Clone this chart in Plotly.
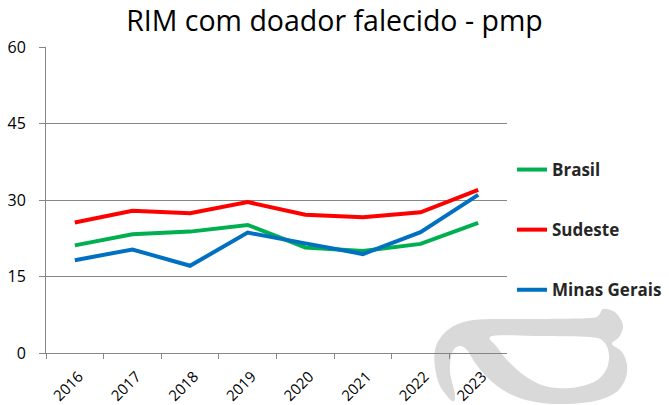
import plotly.graph_objects as go

# Kidney transplants with deceased donor, per million population (pmp)
anos = ["2016", "2017", "2018", "2019", "2020", "2021", "2022", "2023"]
brasil = [21.1, 23.3, 23.8, 25.1, 20.7, 20.0, 21.4, 25.5]
sudeste = [25.6, 27.9, 27.4, 29.6, 27.1, 26.6, 27.6, 32.0]
minas_gerais = [18.2, 20.3, 17.1, 23.6, 21.5, 19.4, 23.7, 31.0]
y_ticks = [0, 15, 30, 45, 60]

W, H = 669, 405
FONT = "Open Sans, Liberation Sans, sans-serif"

series = [
    ("Brasil", brasil, "#00B050"),
    ("Sudeste", sudeste, "#FF0000"),
    ("Minas Gerais", minas_gerais, "#0070C0"),
]

fig = go.Figure()
for nome, valores, cor in series:
    fig.add_trace(go.Scatter(
        x=anos, y=valores, name=nome, mode="lines",
        line=dict(color=cor, width=4),
        legendgroup=nome,
    ))


def px(x, y):
    """Pixel position on the page -> paper coordinates."""
    return x / W, 1 - y / H


def smooth_closed(pts, steps=8):
    """Closed Catmull-Rom curve through pts, returned as an SVG path string."""
    n = len(pts)
    out = []
    for i in range(n):
        p0, p1, p2, p3 = pts[i - 1], pts[i], pts[(i + 1) % n], pts[(i + 2) % n]
        for s in range(steps):
            t = s / steps
            t2, t3 = t * t, t * t * t
            x = 0.5 * ((2 * p1[0]) + (-p0[0] + p2[0]) * t
                       + (2 * p0[0] - 5 * p1[0] + 4 * p2[0] - p3[0]) * t2
                       + (-p0[0] + 3 * p1[0] - 3 * p2[0] + p3[0]) * t3)
            y = 0.5 * ((2 * p1[1]) + (-p0[1] + p2[1]) * t
                       + (2 * p0[1] - 5 * p1[1] + 4 * p2[1] - p3[1]) * t2
                       + (-p0[1] + 3 * p1[1] - 3 * p2[1] + p3[1]) * t3)
            out.append(px(x, y))
    return "M " + " L ".join(f"{a:.5f},{b:.5f}" for a, b in out) + " Z"


# Grey emblem in the lower-right corner (outline + inner hole), page pixels
emblem_outer = [
    (452, 401), (440, 386), (435, 367), (435, 350), (441, 337), (452, 327),
    (468, 321), (490, 319), (540, 319), (590, 318), (599, 315), (603, 309),
    (613, 311), (620, 318), (623, 327), (619, 337), (612, 344), (622, 352),
    (627, 365), (625, 380), (615, 393), (595, 401), (565, 404), (535, 402),
    (510, 394), (490, 380), (476, 364), (467, 350), (459, 346), (452, 353),
    (450, 372), (455, 395),
]
emblem_hole = [
    (492, 336), (540, 336), (590, 337), (604, 342), (609, 355), (606, 370),
    (594, 382), (570, 388), (545, 386), (525, 376), (508, 361), (497, 347),
]

fig.add_shape(
    type="path", xref="paper", yref="paper", layer="below",
    path=smooth_closed(emblem_outer) + " " + smooth_closed(emblem_hole),
    fillcolor="#D9D9D9", line=dict(width=0), fillrule="evenodd",
)

fig.update_layout(
    template="none",
    width=W, height=H,
    margin=dict(l=0, r=0, t=0, b=0, autoexpand=False),
    paper_bgcolor="white", plot_bgcolor="white",
    font=dict(family=FONT, color="#000000"),
    title=dict(
        text="RIM com doador falecido - pmp",
        x=0.5, xanchor="center", xref="paper",
        y=1 - 21 / H, yanchor="middle", yref="paper",
        font=dict(family=FONT, size=28.5, color="#000000"),
        automargin=False,
    ),
    xaxis=dict(
        domain=[46 / W, 507 / W], automargin=False,
        type="category", range=[-0.5, len(anos) - 0.5],
        tickson="boundaries",
        ticks="outside", ticklen=5, tickcolor="#868686",
        showline=True, linecolor="#868686", linewidth=1,
        showgrid=False, tickangle=-45,
        ticklabelshift=4, ticklabelstandoff=8,
        tickfont=dict(family=FONT, size=15, color="#000000"),
        fixedrange=True,
    ),
    yaxis=dict(
        domain=[(H - 353) / H, (H - 47) / H], automargin=False,
        range=[0, 60], tickvals=y_ticks,
        ticks="outside", ticklen=6, tickcolor="#868686",
        showline=True, linecolor="#868686", linewidth=1,
        showgrid=True, gridcolor="#868686", gridwidth=1,
        zeroline=False, ticklabelstandoff=10,
        tickfont=dict(family=FONT, size=16, color="#000000"),
        fixedrange=True,
    ),
    showlegend=True,
    legend=dict(
        x=512 / W, xanchor="left", y=1 - 152 / H, yanchor="top",
        bgcolor="rgba(0,0,0,0)",
        font=dict(family=FONT, size=17, color="#262626", weight="bold"),
        tracegroupgap=35, itemwidth=30,
    ),
)

fig.write_html("out.html")
